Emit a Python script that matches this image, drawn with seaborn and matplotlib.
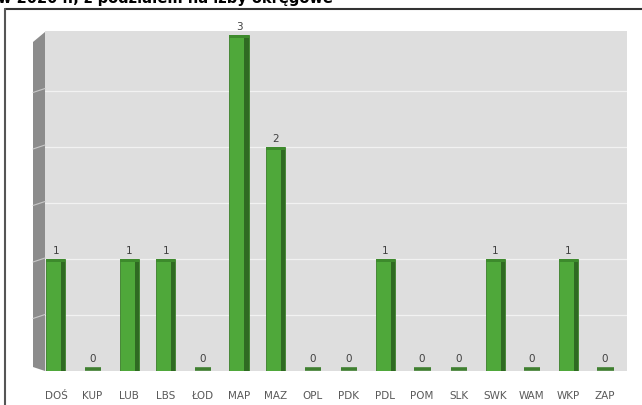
import matplotlib
matplotlib.use("Agg")
import matplotlib.pyplot as plt
from matplotlib.patches import Polygon, Rectangle
from matplotlib.lines import Line2D
import seaborn as sns
import pandas as pd

# Izby okręgowe i liczba spraw
izby = ["DOŚ", "KUP", "LUB", "LBS", "ŁOD", "MAP", "MAZ", "OPL",
        "PDK", "PDL", "POM", "SLK", "SWK", "WAM", "WKP", "ZAP"]
liczba = [1, 0, 1, 1, 0, 3, 2, 0, 0, 1, 0, 0, 1, 0, 1, 0]
tytul = "w 2020 r., z podziałem na izby okręgowe"

df = pd.DataFrame({"izba": izby, "liczba": liczba})

sns.set_theme(style="white")
plt.rcParams["font.family"] = ["Liberation Sans Narrow", "DejaVu Sans"]

W, H = 642, 406
fig = plt.figure(figsize=(W / 100, H / 100), dpi=100)
fig.patch.set_facecolor("white")

# plot area in pixel terms
x0, x1, ytop, ybot = 45, 627, 32, 372
ax = fig.add_axes([x0 / W, 1 - ybot / H, (x1 - x0) / W, (ybot - ytop) / H])
ax.set_facecolor("#dedede")

face = "#4fa83a"
side = "#2f6a22"
sns.barplot(data=df, x="izba", y="liczba", color=face, width=0.52,
            saturation=1, edgecolor="#3a7f2a", linewidth=0.6, ax=ax, zorder=3)

ax.set_xlim(-0.3, 15.6)
ax.set_ylim(0, 3.04)

# horizontal gridlines every 0.5
for g in [0.5, 1.0, 1.5, 2.0, 2.5]:
    ax.axhline(g, color="#f2f2f2", lw=0.9, zorder=1)

# 3D shading: darker right side and top cap, zero-value dashes, value labels
for p, v in zip(ax.patches, liczba):
    bx, bw = p.get_x(), p.get_width()
    if v > 0:
        ax.add_patch(Rectangle((bx + bw * 0.78, 0), bw * 0.22, v,
                               facecolor=side, edgecolor="none", zorder=4))
        ax.add_patch(Rectangle((bx, v - 0.025), bw, 0.025,
                               facecolor="#3d8a2c", edgecolor="none", zorder=4))
        ax.text(bx + bw / 2, v + 0.04, str(v), ha="center", va="bottom",
                fontsize=7.5, color="#404040", zorder=5)
    else:
        ax.hlines(0.02, bx + bw * 0.1, bx + bw * 0.95, colors="#3f7f30",
                  lw=2.6, zorder=4)
        ax.text(bx + bw / 2, 0.07, "0", ha="center", va="bottom",
                fontsize=7.5, color="#404040", zorder=5)

ax.set_xlabel("")
ax.set_ylabel("")
ax.set_yticks([])
ax.tick_params(axis="x", length=0, pad=14, labelsize=7.5, labelcolor="#595959")
for s in ax.spines.values():
    s.set_visible(False)

# left side wall
wall = Polygon([(33 / W, 1 - 43 / H), (45 / W, 1 - 33 / H),
                (45 / W, 1 - 372 / H), (33 / W, 1 - 368 / H)],
               closed=True, transform=fig.transFigure,
               facecolor="#8c8c8c", edgecolor="none")
fig.patches.append(wall)
for k in range(1, 6):
    yb = 372 - k * 56.5
    fig.lines.append(Line2D([33 / W, 45 / W], [1 - (yb + 4) / H, 1 - yb / H],
                            transform=fig.transFigure, color="#c8c8c8", lw=0.8))

# outer frame (top and left)
fig.lines.append(Line2D([5 / W, 1.0], [1 - 9.5 / H, 1 - 9.5 / H],
                        transform=fig.transFigure, color="#333333", lw=1.5))
fig.lines.append(Line2D([5 / W, 5 / W], [1 - 9.5 / H, 0],
                        transform=fig.transFigure, color="#555555", lw=1.5))

# heading line (clipped at top edge)
fig.text(-2 / W, 1 - 3 / H, tytul, ha="left", va="baseline",
         fontsize=10.5, fontweight="bold", color="black",
         family=["DejaVu Sans"])

fig.savefig("out.png", dpi=100)
